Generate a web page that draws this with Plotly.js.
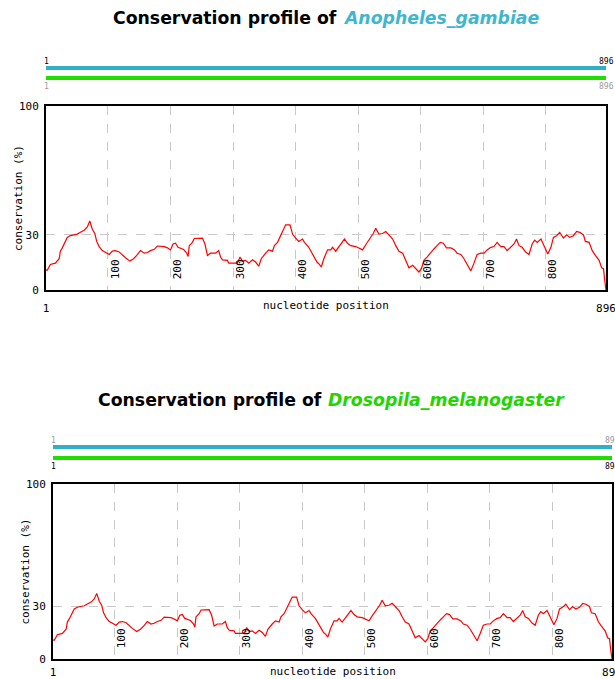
<!DOCTYPE html>
<html>
<head>
<meta charset="utf-8">
<script src="https://cdn.plot.ly/plotly-3.0.1.min.js"></script>
<style>
  html, body { margin: 0; padding: 0; background: #fff; }
  #chart { width: 615px; height: 679px; }
</style>
</head>
<body>
<div id="chart"></div>
<script>
// ---------------- data ----------------
const seqLen = 896;
const speciesNames = ['Anopheles_gambiae', 'Drosopila_melanogaster'];
const titlePrefix = 'Conservation profile of';
const xTitle = 'nucleotide position';
const yTitle = 'conservation (%)';
const positions = [1,3,8,16,22,24,27,30,32,35,40,46,51,56,62,67,71,75,79,82,86,91,96,102,107,112,118,123,128,135,141,146,152,158,163,168,174,179,184,190,195,200,204,208,212,221,226,228,230,235,238,243,251,255,259,264,272,277,280,283,291,293,307,311,315,320,325,331,336,341,345,352,357,363,366,371,376,380,384,391,395,400,405,411,414,421,427,434,437,441,445,451,456,459,464,469,475,478,483,488,496,501,507,512,517,524,528,533,539,544,549,555,560,565,571,576,581,587,592,597,601,605,610,616,621,626,631,636,641,648,654,658,664,669,674,680,685,690,696,701,706,712,717,722,728,733,738,744,749,753,757,762,768,773,778,782,786,792,796,800,803,808,812,817,822,828,833,838,844,849,854,860,863,869,874,879,885,889,892,894,896];
const conservationA = [11,10.7,13.9,14.6,17,21.1,22.9,25,26.8,28.6,29.6,30,30.4,31.4,32.5,34.3,37.5,33,30.7,26.4,23.6,21.4,20.4,19.3,21.1,21.4,20.7,18.9,17.5,15.7,17,18.8,21.4,20,20.4,21.4,22.1,23.9,23.9,23.6,22.9,21.8,25,25.4,23.2,22,20,18.2,24.1,25.9,28,28.2,28.2,25,18.8,20,20,21.4,17.9,16.4,16.1,14.6,14.6,17.9,15.7,16.1,14.6,16.4,15.2,12.9,17,20,21.8,21.1,24.1,25.9,29.5,32.1,35.4,35.4,30.4,28.2,26.4,27.7,25.9,23.2,19.6,15.2,14.3,12.5,17,21.8,21.8,23.2,21.1,23.6,25.9,27.7,25.4,24.1,23.6,22.9,21.8,24.6,27.1,30.7,33.6,30.4,30.7,31.8,30,27.7,24.1,21.1,20,16.1,12.1,13.4,11.6,9.8,11.6,16.1,17.9,20,22.3,24.1,25.9,25.4,22.9,22.9,21.8,20,19.3,17,14,10.4,14.6,19.3,20,20,21.8,23.2,23.6,25.9,23.6,23.6,21.4,23.6,25,27.7,24.1,23.2,20.5,19.3,25,27.1,25.9,27.7,25,21.4,19.6,23.2,28.6,29.5,31.3,28.2,30,28.6,29.5,31.8,31.3,30,26.4,25.9,21.4,18.8,16.1,12.1,11.6,5,0];
// the second profile in the picture reads the same as the first
const conservationD = [11,10.7,13.9,14.6,17,21.1,22.9,25,26.8,28.6,29.6,30,30.4,31.4,32.5,34.3,37.5,33,30.7,26.4,23.6,21.4,20.4,19.3,21.1,21.4,20.7,18.9,17.5,15.7,17,18.8,21.4,20,20.4,21.4,22.1,23.9,23.9,23.6,22.9,21.8,25,25.4,23.2,22,20,18.2,24.1,25.9,28,28.2,28.2,25,18.8,20,20,21.4,17.9,16.4,16.1,14.6,14.6,17.9,15.7,16.1,14.6,16.4,15.2,12.9,17,20,21.8,21.1,24.1,25.9,29.5,32.1,35.4,35.4,30.4,28.2,26.4,27.7,25.9,23.2,19.6,15.2,14.3,12.5,17,21.8,21.8,23.2,21.1,23.6,25.9,27.7,25.4,24.1,23.6,22.9,21.8,24.6,27.1,30.7,33.6,30.4,30.7,31.8,30,27.7,24.1,21.1,20,16.1,12.1,13.4,11.6,9.8,11.6,16.1,17.9,20,22.3,24.1,25.9,25.4,22.9,22.9,21.8,20,19.3,17,14,10.4,14.6,19.3,20,20,21.8,23.2,23.6,25.9,23.6,23.6,21.4,23.6,25,27.7,24.1,23.2,20.5,19.3,25,27.1,25.9,27.7,25,21.4,19.6,23.2,28.6,29.5,31.3,28.2,30,28.6,29.5,31.8,31.3,30,26.4,25.9,21.4,18.8,16.1,12.1,11.6,5,0];
const yTickVals = [0, 30, 100];
const xGridTicks = [100, 200, 300, 400, 500, 600, 700, 800];
const xEndTicks = [1, seqLen];

// ---------------- styles ----------------
const MONO = 'DejaVu Sans Mono, Liberation Mono, monospace';
const WIDE = 'DejaVu Sans, Verdana, sans-serif';
const BLUE = '#2fb0c8';
const GREEN = '#22dd00';
const TITLE_BLUE = '#3fb6cf';
const TITLE_GREEN = '#22d400';
const GRID = '#c8c8c8';

function pY(px) { return 1 - px / 679; }
function pX(px) { return px / 615; }

const panels = [
  { x: 'x', y: 'y', xo: 'x3', dom: [pX(46), pX(606)], ydom: [pY(290), pY(106)],
    title: pY(18), split: 339, blue: pY(68), green: pY(78), lblTop: pY(61), lblBot: pY(87),
    xtitle: pY(306), ytitleX: pX(18), endStandoff: 10,
    hi: 'blue', name: speciesNames[0], color: TITLE_BLUE, data: conservationA },
  { x: 'x2', y: 'y2', xo: 'x4', dom: [pX(53), pX(612)], ydom: [pY(659), pY(484)],
    title: pY(400), split: 324, blue: pY(447), green: pY(458), lblTop: pY(440), lblBot: pY(466),
    xtitle: pY(671), ytitleX: pX(25), endStandoff: 5,
    hi: 'green', name: speciesNames[1], color: TITLE_GREEN, data: conservationD }
];

const traces = [];
const shapes = [];
const annotations = [];
const layout = {
  width: 615, height: 679,
  margin: { l: 0, r: 0, t: 0, b: 0 },
  paper_bgcolor: '#fff', plot_bgcolor: '#fff',
  showlegend: false,
  font: { family: MONO, size: 11, color: '#000' }
};

panels.forEach((p) => {
  traces.push({
    type: 'scatter', mode: 'lines', x: positions, y: p.data,
    xaxis: p.x, yaxis: p.y,
    line: { color: '#ff0000', width: 1.2 }, hoverinfo: 'skip'
  });
  traces.push({
    type: 'scatter', mode: 'markers', x: xEndTicks, y: [0, 0],
    xaxis: p.xo, yaxis: p.y, marker: { opacity: 0 }, hoverinfo: 'skip'
  });
  const xk = p.x === 'x' ? 'xaxis' : 'xaxis2';
  const yk = p.y === 'y' ? 'yaxis' : 'yaxis2';
  const xok = p.xo === 'x3' ? 'xaxis3' : 'xaxis4';
  layout[xk] = {
    domain: p.dom, anchor: p.y, range: [1, seqLen], fixedrange: true,
    tickmode: 'array', tickvals: xGridTicks, ticktext: xGridTicks.map(String),
    ticklabelposition: 'inside', tickangle: -90, ticklabelshift: 7, ticklabelstandoff: 6,
    ticklabeloverflow: 'allow',
    ticks: '', showgrid: true, gridcolor: GRID, griddash: 'dash', gridwidth: 1,
    zeroline: false, showline: true, mirror: true, linecolor: '#000', linewidth: 2,
    tickfont: { family: MONO, size: 11, color: '#000' }
  };
  layout[xok] = {
    overlaying: p.x, anchor: p.y, side: 'bottom', range: [1, seqLen], fixedrange: true,
    tickmode: 'array', tickvals: xEndTicks, ticktext: xEndTicks.map(String),
    ticks: '', showgrid: false, zeroline: false, showline: false,
    ticklabelstandoff: p.endStandoff, ticklabeloverflow: 'allow',
    tickfont: { family: MONO, size: 11, color: '#000' }
  };
  layout[yk] = {
    domain: p.ydom, anchor: p.x, range: [0, 100], fixedrange: true,
    tickmode: 'array', tickvals: yTickVals, ticktext: yTickVals.map(String),
    ticks: '', showgrid: true, gridcolor: GRID, griddash: 'dash', gridwidth: 1,
    zeroline: false, showline: true, mirror: true, linecolor: '#000', linewidth: 2,
    ticklabelstandoff: 3, ticklabeloverflow: 'allow',
    tickfont: { family: MONO, size: 11, color: '#000' }
  };

  // axis titles
  annotations.push({ xref: p.x + ' domain', yref: 'paper', x: 0.5, y: p.xtitle, text: xTitle,
    showarrow: false, xanchor: 'center', yanchor: 'middle',
    font: { family: MONO, size: 11, color: '#000' } });
  annotations.push({ xref: 'paper', yref: p.y + ' domain', x: p.ytitleX, y: 0.5, text: yTitle,
    showarrow: false, textangle: -90, xanchor: 'center', yanchor: 'middle',
    font: { family: MONO, size: 11, color: '#000' } });

  // sequence range bars
  shapes.push({ type: 'line', xref: p.x, yref: 'paper', x0: 1, x1: seqLen, y0: p.blue, y1: p.blue,
    line: { color: BLUE, width: 4 } });
  shapes.push({ type: 'line', xref: p.x, yref: 'paper', x0: 1, x1: seqLen, y0: p.green, y1: p.green,
    line: { color: GREEN, width: 4 } });

  const topCol = p.hi === 'blue' ? '#000' : '#999';
  const botCol = p.hi === 'green' ? '#000' : '#999';
  xEndTicks.forEach(v => {
    annotations.push({ xref: p.x, yref: 'paper', x: v, y: p.lblTop, text: String(v), showarrow: false,
      xanchor: 'center', yanchor: 'middle', font: { family: MONO, size: 8, color: topCol } });
    annotations.push({ xref: p.x, yref: 'paper', x: v, y: p.lblBot, text: String(v), showarrow: false,
      xanchor: 'center', yanchor: 'middle', font: { family: MONO, size: 8, color: botCol } });
  });

  // title: black prefix + coloured italic species name
  annotations.push({
    xref: 'paper', yref: 'paper', x: pX(p.split), y: p.title, showarrow: false,
    xanchor: 'right', yanchor: 'middle', text: titlePrefix,
    font: { family: WIDE, size: 17.3, weight: 'bold', color: '#000' }
  });
  annotations.push({
    xref: 'paper', yref: 'paper', x: pX(p.split + 2), y: p.title, showarrow: false,
    xanchor: 'left', yanchor: 'middle', text: '<i>' + p.name + '</i>',
    font: { family: WIDE, size: 17.3, weight: 'bold', color: p.color }
  });
});

layout.shapes = shapes;
layout.annotations = annotations;

Plotly.newPlot('chart', traces, layout, { displayModeBar: false, staticPlot: true });
</script>
</body>
</html>
